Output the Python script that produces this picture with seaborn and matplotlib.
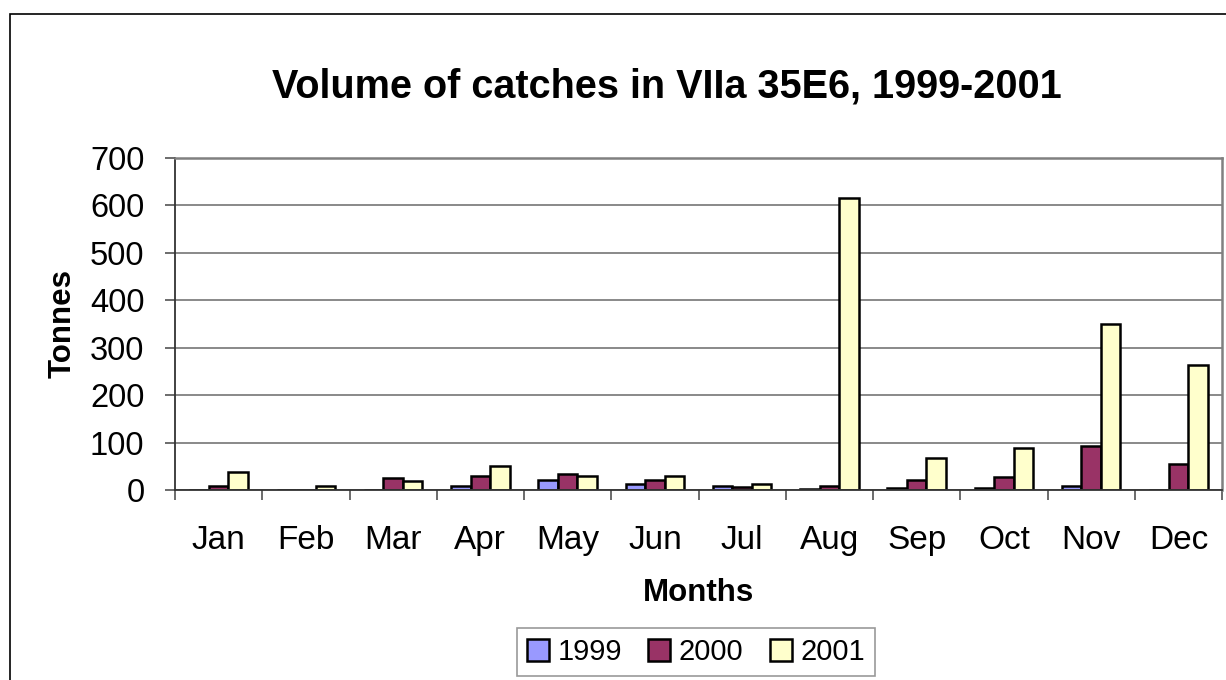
import pandas as pd
import seaborn as sns
import matplotlib.pyplot as plt
from matplotlib.patches import Rectangle

months = ['Jan', 'Feb', 'Mar', 'Apr', 'May', 'Jun', 'Jul', 'Aug', 'Sep', 'Oct', 'Nov', 'Dec']
years = ['1999', '2000', '2001']
v1999 = [0, 0, 0, 9, 22, 13, 8, 3, 4, 4, 9, 0]
v2000 = [8, 0, 26, 30, 34, 22, 7, 8, 22, 27, 93, 55]
v2001 = [38, 9, 18, 51, 30, 30, 13, 616, 68, 89, 350, 263]
colors = ['#9999FF', '#993366', '#FFFFCC']

df = pd.DataFrame({
    'Months': months * 3,
    'Tonnes': v1999 + v2000 + v2001,
    'year': [y for y in years for _ in months],
})

sns.set_style('white')
plt.rcParams['font.family'] = ['Liberation Sans', 'DejaVu Sans']
plt.rcParams['text.color'] = 'black'
plt.rcParams['axes.labelcolor'] = 'black'

fig = plt.figure(figsize=(12.26, 6.8), dpi=100)
ax = fig.add_axes([175 / 1226, 1 - 490 / 680, 1047 / 1226, 332 / 680])

sns.barplot(data=df, x='Months', y='Tonnes', hue='year', palette=colors, saturation=1,
            edgecolor='black', linewidth=1.8, width=0.67, ax=ax, legend=True)

ax.set_ylim(0, 700)
ax.set_yticks(range(0, 701, 100))
ax.set_xlim(-0.5, 11.5)
ax.yaxis.grid(True, color='#808080', linewidth=1.3)
ax.set_axisbelow(True)
for s in ['top', 'right']:
    ax.spines[s].set_color('#808080')
    ax.spines[s].set_linewidth(1.8)
for s in ['left', 'bottom']:
    ax.spines[s].set_color('#333333')
    ax.spines[s].set_linewidth(1.3)

# category separators as ticks
ax.set_xticks([i - 0.5 for i in range(13)], minor=True)
ax.tick_params(axis='x', which='major', bottom=False, length=0, labelsize=24, pad=25,
               labelcolor='black')
ax.tick_params(axis='x', which='minor', bottom=True, length=7, width=1.3, color='#606060',
               direction='out')
ax.tick_params(axis='y', left=True, length=7, width=1.3, color='#606060', direction='out',
               labelsize=23.5, pad=15, labelcolor='black')

ax.set_xlabel('Months', fontsize=22.5, fontweight='bold', labelpad=16)
ax.set_ylabel('Tonnes', fontsize=22.5, fontweight='bold', labelpad=9)
fig.text(667 / 1226, 1 - 97 / 680, 'Volume of catches in VIIa 35E6, 1999-2001',
         fontsize=28.5, fontweight='bold', ha='center', va='baseline')

handles, labels = ax.get_legend_handles_labels()
ax.get_legend().remove()
leg = fig.legend(handles, labels, loc='center', bbox_to_anchor=(696 / 1226, 1 - 652 / 680),
                 ncol=3, fontsize=21, frameon=True, fancybox=False, handlelength=0.75,
                 handleheight=0.75, handletextpad=0.3, columnspacing=0.9, borderpad=0.35)
leg.get_frame().set_edgecolor('#808080')
leg.get_frame().set_linewidth(1.2)

# outer chart border
fig.patches.append(Rectangle((10 / 1226, -0.1), 1.2, (680 - 14) / 680 + 0.1, transform=fig.transFigure,
                             fill=False, edgecolor='black', linewidth=1.2))

fig.savefig('out.png', dpi=100)
